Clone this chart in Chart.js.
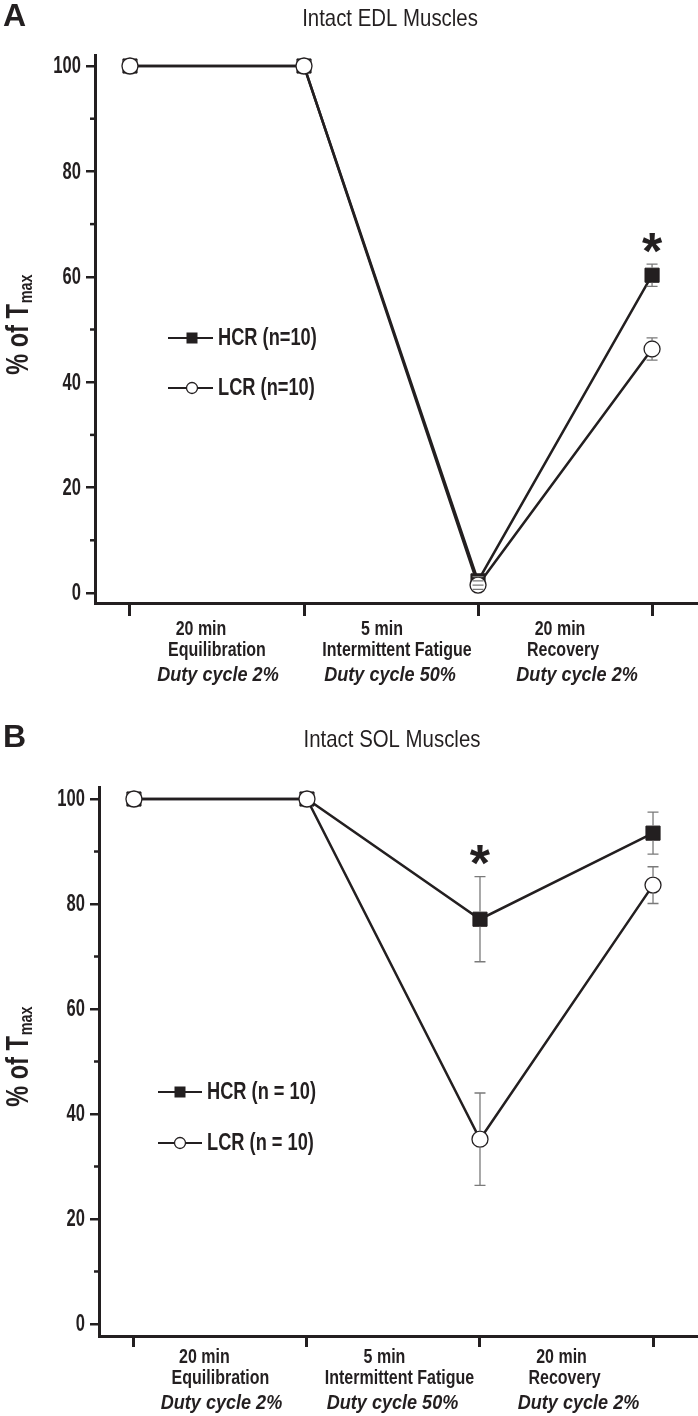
<!DOCTYPE html>
<html><head><meta charset="utf-8">
<script src="https://cdn.jsdelivr.net/npm/chart.js@4.4.1/dist/chart.umd.min.js"></script>
<style>html,body{margin:0;padding:0;background:#fff;overflow:hidden;}canvas{display:block;}</style>
</head><body>
<canvas id="ca" width="698" height="720"></canvas>
<canvas id="cb" width="698" height="696"></canvas>
<script>
// ---------- data ----------
const stageLabels = [
  ["20 min", "Equilibration", "Duty cycle 2%"],
  ["5 min", "Intermittent Fatigue", "Duty cycle 50%"],
  ["20 min", "Recovery", "Duty cycle 2%"]
];
const stagePoints = [0, 1, 2, 3];
const yTicks = [0, 20, 40, 60, 80, 100];
const yMinorTicks = [10, 30, 50, 70, 90];

const edlHCR = [100, 100, 2.3, 60.3];
const edlHCRErr = [0, 0, 0.8, 2.1];
const edlLCR = [100, 100, 1.5, 46.3];
const edlLCRErr = [0, 0, 0.8, 2.1];
const edlLegend = ["HCR (n=10)", "LCR (n=10)"];
const edlStars = [3];

const solHCR = [100, 100, 77.1, 93.5];
const solHCRErr = [0, 0, 8.1, 4.0];
const solLCR = [100, 100, 35.2, 83.6];
const solLCRErr = [0, 0, 8.8, 3.5];
const solLegend = ["HCR (n = 10)", "LCR (n = 10)"];
const solStars = [2];

// ---------- style ----------
const INK = '#231f20';
const FAM = "'Liberation Sans', Arial, Helvetica, sans-serif";

function txt(ctx, s, x, y, font, sx, align, base) {
  ctx.save();
  ctx.font = font;
  ctx.fillStyle = INK;
  ctx.textAlign = align || 'center';
  ctx.textBaseline = base || 'middle';
  ctx.translate(x, y);
  ctx.scale(sx, 1);
  ctx.fillText(s, 0, 0);
  ctx.restore();
}

function drawYTitle(ctx, cx, cy) {
  ctx.save();
  ctx.translate(cx, cy);
  ctx.rotate(-Math.PI / 2);
  ctx.scale(0.76, 1);
  ctx.fillStyle = INK;
  ctx.textBaseline = 'alphabetic';
  ctx.textAlign = 'left';
  const mainF = 'bold 31px ' + FAM, subF = 'bold 19px ' + FAM;
  ctx.font = mainF; const w1 = ctx.measureText('% of T').width;
  ctx.font = subF; const w2 = ctx.measureText('max').width;
  const x0 = -(w1 + w2) / 2;
  ctx.font = mainF; ctx.fillText('% of T', x0, 11);
  ctx.font = subF; ctx.fillText('max', x0 + w1 + 1, 15);
  ctx.restore();
}

function deco(p) {
  return {
    id: 'deco' + p.letter,
    afterDatasetsDraw(chart) {
      const ctx = chart.ctx, xs = chart.scales.x, ys = chart.scales.y;
      ctx.save();
      ctx.strokeStyle = '#7a7a7a';
      ctx.lineWidth = 1.3;
      chart.data.datasets.forEach(ds => {
        const gap = ds.pointStyle === 'rect' ? 7.5 : 8.5;
        ds.errors.forEach((e, j) => {
          if (!e) return;
          const v = ds.data[j].y;
          const x = xs.getPixelForValue(ds.data[j].x);
          const yc = ys.getPixelForValue(v);
          const yt = ys.getPixelForValue(v + e), yb = ys.getPixelForValue(v - e);
          ctx.beginPath();
          if (yt < yc - gap) { ctx.moveTo(x, yt); ctx.lineTo(x, yc - gap); }
          if (yb > yc + gap) { ctx.moveTo(x, yc + gap); ctx.lineTo(x, yb); }
          ctx.moveTo(x - 5.5, yt); ctx.lineTo(x + 5.5, yt);
          ctx.moveTo(x - 5.5, yb); ctx.lineTo(x + 5.5, yb);
          ctx.stroke();
        });
      });
      ctx.restore();
    },
    afterDraw(chart) {
      const ctx = chart.ctx, xs = chart.scales.x, ys = chart.scales.y;
      const area = chart.chartArea, ax = area.left;
      // minor ticks
      ctx.save();
      ctx.strokeStyle = INK; ctx.lineWidth = 2.5;
      yMinorTicks.forEach(v => {
        const y = ys.getPixelForValue(v);
        ctx.beginPath(); ctx.moveTo(ax - 5, y); ctx.lineTo(ax, y); ctx.stroke();
      });
      ctx.restore();
      // y tick labels
      ys.ticks.forEach(t => txt(ctx, String(t.value), ax - 14, ys.getPixelForValue(t.value) + 1,
        'bold 23px ' + FAM, 0.72, 'right', 'middle'));
      // category labels
      stageLabels.forEach((lines, i) => {
        const cx = xs.getPixelForValue(stagePoints[i] + 0.5);
        lines.forEach((s, k) => {
          const font = k === 2 ? 'italic bold 21px ' + FAM : 'bold 20px ' + FAM;
          txt(ctx, s, cx + p.catDx[i][k], area.bottom + p.catDy[k], font, k === 2 ? 0.86 : 0.8);
        });
      });
      // panel letter and title
      txt(ctx, p.letter, 3, p.letterY, 'bold 32px ' + FAM, 1, 'left', 'middle');
      txt(ctx, p.title, p.titleX, p.titleY, '24px ' + FAM, 0.85, 'center', 'middle');
      // y axis title
      drawYTitle(ctx, 17, p.yTitleY);
      // legend
      ctx.save();
      p.legend.forEach((s, k) => {
        const y = p.legY[k];
        ctx.strokeStyle = INK; ctx.lineWidth = 2;
        ctx.beginPath(); ctx.moveTo(p.legX[0], y); ctx.lineTo(p.legX[2], y); ctx.stroke();
        if (k === 0) {
          ctx.fillStyle = INK; ctx.fillRect(p.legX[1] - 5.5, y - 5.5, 11, 11);
        } else {
          ctx.fillStyle = '#fff'; ctx.lineWidth = 1.3;
          ctx.beginPath(); ctx.arc(p.legX[1], y, 5.5, 0, Math.PI * 2); ctx.fill(); ctx.stroke();
        }
        txt(ctx, s, p.legX[3], y, 'bold 24px ' + FAM, 0.76, 'left', 'middle');
      });
      ctx.restore();
      // significance stars
      const hcr = chart.data.datasets.find(d => d.pointStyle === 'rect');
      p.stars.forEach(j => {
        const x = xs.getPixelForValue(hcr.data[j].x);
        const yTop = ys.getPixelForValue(hcr.data[j].y + hcr.errors[j]);
        const cy = yTop - 24;
        txt(ctx, '*', x, cy + 0.55 * 52, 'bold 52px ' + FAM, 1, 'center', 'alphabetic');
      });
    }
  };
}

function makePanel(id, p) {
  const pts = arr => stagePoints.map((x, j) => ({ x: x, y: arr[j] }));
  new Chart(document.getElementById(id), {
    type: 'line',
    data: {
      datasets: [
        { label: 'HCR', data: pts(p.hcr), errors: p.hcrErr, order: 1,
          borderColor: INK, borderWidth: 2.5, tension: 0,
          pointStyle: 'rect', pointRadius: 10, pointBackgroundColor: INK,
          pointBorderColor: INK, pointBorderWidth: 1, clip: false },
        { label: 'LCR', data: pts(p.lcr), errors: p.lcrErr, order: 0,
          borderColor: INK, borderWidth: 2.5, tension: 0,
          pointStyle: 'circle', pointRadius: 8, pointBackgroundColor: '#fff',
          pointBorderColor: INK, pointBorderWidth: 1.3, clip: false }
      ]
    },
    options: {
      responsive: false, animation: false, devicePixelRatio: 1,
      layout: { autoPadding: false, padding: { top: p.areaTop, left: 0, right: 0, bottom: 0 } },
      plugins: { legend: { display: false }, tooltip: { enabled: false }, title: { display: false } },
      scales: {
        x: {
          type: 'linear', position: 'bottom', min: p.xMin, max: p.xMax,
          afterBuildTicks: s => { s.ticks = stagePoints.map(v => ({ value: v })); },
          afterFit: s => { s.height = p.xAxisH; },
          ticks: { display: false },
          grid: { display: true, drawOnChartArea: false, drawTicks: true, tickLength: p.xTickLen,
                  tickWidth: 3, lineWidth: 3, tickColor: INK, color: INK },
          border: { display: true, color: INK, width: 3 }
        },
        y: {
          type: 'linear', position: 'left', min: p.yMin, max: p.yMax,
          afterBuildTicks: s => { s.ticks = yTicks.map(v => ({ value: v })); },
          afterFit: s => { s.width = p.axisX; },
          ticks: { display: false },
          grid: { display: true, drawOnChartArea: false, drawTicks: true, tickLength: 9,
                  tickWidth: 2.5, lineWidth: 2.5, tickColor: INK, color: INK },
          border: { display: true, color: INK, width: 3 }
        }
      }
    },
    plugins: [deco(p)]
  });
}

const catDx = [[-16, 0, 1], [-9, 6, -1], [-5, -2, 12]];

makePanel('ca', {
  letter: 'A', title: 'Intact EDL Muscles', letterY: 17, titleX: 390, titleY: 19, yTitleY: 325,
  hcr: edlHCR, hcrErr: edlHCRErr, lcr: edlLCR, lcrErr: edlLCRErr,
  legend: edlLegend, legX: [168, 192, 213, 218], legY: [338, 388], stars: edlStars,
  areaTop: 55, axisX: 95, xAxisH: 117, xTickLen: 13,
  xMin: -0.201, xMax: 3.264, yMin: -1.9, yMax: 102.09,
  catDx: catDx, catDy: [26, 47, 72]
});

makePanel('cb', {
  letter: 'B', title: 'Intact SOL Muscles', letterY: 18, titleX: 392, titleY: 20, yTitleY: 337,
  hcr: solHCR, hcrErr: solHCRErr, lcr: solLCR, lcrErr: solLCRErr,
  legend: solLegend, legX: [158, 180, 202, 207], legY: [372, 423], stars: solStars,
  areaTop: 67, axisX: 99, xAxisH: 80, xTickLen: 11,
  xMin: -0.202, xMax: 3.26, yMin: -2.29, yMax: 102.29,
  catDx: catDx, catDy: [21, 42, 67]
});
</script>
</body></html>
